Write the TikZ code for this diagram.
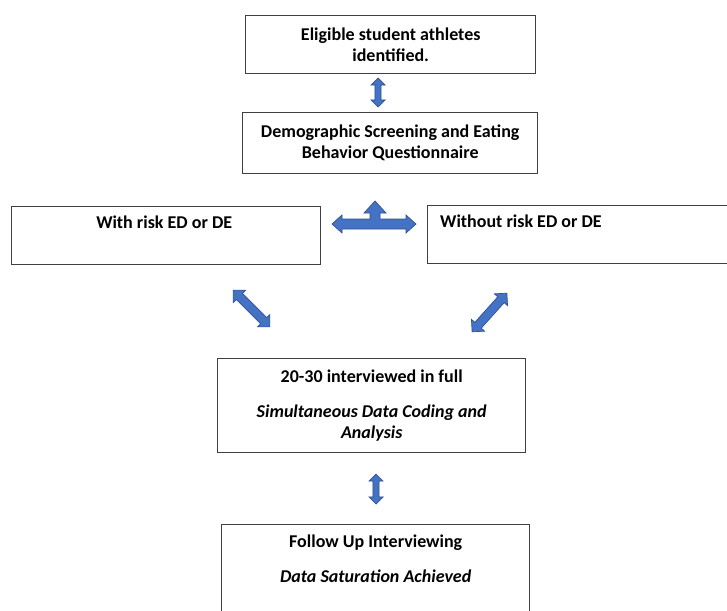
\documentclass[tikz,border=0pt]{standalone}
\usepackage{fontspec}
\setmainfont{Carlito}
\usetikzlibrary{shapes.arrows, positioning, calc}
\definecolor{arrowfill}{HTML}{4472C4}
\definecolor{arrowline}{HTML}{2F528F}
\definecolor{boxline}{HTML}{404040}

\begin{document}
\begin{tikzpicture}[x=1pt, y=-1pt,
    every node/.style={font=\fontsize{18}{21}\selectfont},
    box/.style={draw=boxline, line width=1.4pt, anchor=north west, align=center, inner sep=0pt},
    lbl/.style={inner sep=0pt, anchor=base},
    blockarr/.style={draw=arrowline, fill=arrowfill, line width=0.7pt},
    dblarr/.style={blockarr, double arrow, double arrow head extend=4pt, inner sep=2.7pt, minimum height=#1},
    widearr/.style={dblarr=#1, inner sep=4pt, double arrow head extend=4.5pt}
]
    \useasboundingbox (0,0) rectangle (727,610);
    \clip (0,0) rectangle (727,610);

    % Screening boxes
    \node[box, minimum width=290pt, minimum height=58pt] (elig) at (245,15)
        {\bfseries Eligible student athletes\\\bfseries identified.};
    \node[box, minimum width=295pt, minimum height=61pt] (demo) at (242,112)
        {\bfseries Demographic Screening and Eating\\\bfseries Behavior Questionnaire};

    % Risk groups
    \node[box, minimum width=309pt, minimum height=58pt] (risk) at (11,206) {};
    \node[lbl, font=\fontsize{18}{21}\selectfont\bfseries] (risktxt) at ([xshift=-2pt, yshift=-22pt]risk.north) {With risk ED or DE};
    \node[box, minimum width=320pt, minimum height=58pt] (norisk) at (427,205) {};
    \node[lbl, anchor=base west, font=\fontsize{18}{21}\selectfont\bfseries] (norisktxt) at ([xshift=13pt, yshift=-22pt]norisk.north west) {Without risk ED or DE};

    % Interviews
    \node[box, minimum width=308pt, minimum height=94pt] (interv) at (217,358)
        {\bfseries 20-30 interviewed in full\\[14pt]\bfseries\itshape Simultaneous Data Coding and\\\bfseries\itshape Analysis};
    \node[box, minimum width=308pt, minimum height=110pt] (follow) at (221,524) {};
    \node[lbl, font=\fontsize{18}{21}\selectfont\bfseries] (followtxt) at ([yshift=-23pt]follow.north) {Follow Up Interviewing};
    \node[lbl, font=\fontsize{18}{21}\selectfont\bfseries\itshape] (satur) at ([yshift=-58pt]follow.north) {Data Saturation Achieved};

    % Arrows
    \node[dblarr=29pt, rotate=90] (a12) at (378,92.5) {};
    \node[dblarr=30pt, rotate=90] (a56) at (376,489) {};
    \node[widearr=52pt, rotate=-45] (aleft) at (251.5,308.5) {};
    \node[widearr=52pt, rotate=48] (aright) at (489.5,312.5) {};
    \draw[blockarr] (332,224) -- (342,215) -- (342,219) -- (370,219) -- (370,213) -- (364,213)
        -- (375,201) -- (386,213) -- (380,213) -- (380,219) -- (406,219) -- (406,215)
        -- (416,224) -- (406,233) -- (406,229) -- (342,229) -- (342,233) -- cycle;
\end{tikzpicture}
\end{document}
